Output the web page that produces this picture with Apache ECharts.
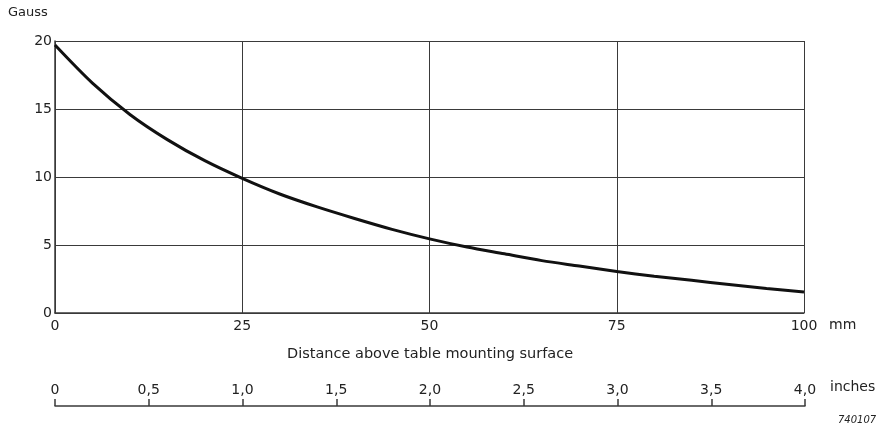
<!DOCTYPE html>
<html>
<head>
    <meta charset="UTF-8">
    <title>Gauss vs distance</title>
    <style>
        body { margin: 0; padding: 0; background: #fff; }
        #chart { width: 881px; height: 431px; }
    </style>
    <script src="https://cdn.jsdelivr.net/npm/echarts@6/dist/echarts.min.js"></script>
</head>
<body>
    <div id="chart"></div>
    <script>
        // distance above table (mm) and field strength (Gauss)
        var distanceMm = [0, 5, 10, 15, 20, 25, 30, 35, 40, 45, 50, 55, 60, 65, 70, 75, 80, 85, 90, 95, 100];
        var gauss = [19.7, 16.9, 14.6, 12.75, 11.2, 9.9, 8.75, 7.8, 6.95, 6.15, 5.45, 4.85, 4.35, 3.85, 3.45, 3.05, 2.7, 2.4, 2.1, 1.8, 1.55];
        // inch scale labels (comma decimals as in the original)
        var inchLabels = ['0', '0,5', '1,0', '1,5', '2,0', '2,5', '3,0', '3,5', '4,0'];

        var font = 'DejaVu Sans, Liberation Sans, sans-serif';
        var ink = '#222';
        var gridColor = '#3a3a3a';

        var points = distanceMm.map(function (d, i) { return [d, gauss[i]]; });

        var chart = echarts.init(document.getElementById('chart'));
        var option = {
            animation: false,
            grid: [
                { left: 55, right: 77, top: 41, bottom: 118 },
                { left: 55, width: 750, top: 406, height: 1 }
            ],
            xAxis: [
                {
                    type: 'value', gridIndex: 0, min: 0, max: 100, interval: 25,
                    axisLine: { show: true, lineStyle: { color: gridColor, width: 1.5 } },
                    axisTick: { show: false },
                    splitLine: { show: true, lineStyle: { color: gridColor, width: 1 } },
                    axisLabel: { color: ink, fontFamily: font, fontSize: 14, margin: 6 }
                },
                {
                    type: 'value', gridIndex: 1, position: 'top', min: 0, max: 4, interval: 0.5,
                    axisLine: { show: true, onZero: false, lineStyle: { color: gridColor, width: 1.5 } },
                    axisTick: { show: true, length: 7, lineStyle: { color: gridColor, width: 1.5 } },
                    splitLine: { show: false },
                    axisLabel: {
                        color: ink, fontFamily: font, fontSize: 14, margin: 9,
                        formatter: function (v) { return inchLabels[Math.round(v / 0.5)]; }
                    }
                }
            ],
            yAxis: [
                {
                    type: 'value', gridIndex: 0, min: 0, max: 20, interval: 5,
                    axisLine: { show: true, lineStyle: { color: gridColor, width: 1.5 } },
                    axisTick: { show: false },
                    splitLine: { show: true, lineStyle: { color: gridColor, width: 1 } },
                    axisLabel: { color: ink, fontFamily: font, fontSize: 14, margin: 3 }
                },
                {
                    type: 'value', gridIndex: 1, min: 0, max: 1, show: false
                }
            ],
            graphic: [
                { type: 'text', left: 8, top: 6, style: { text: 'Gauss', font: '13px ' + font, fill: ink } },
                { type: 'text', left: 829, top: 318, style: { text: 'mm', font: '14px ' + font, fill: ink } },
                { type: 'text', left: 287, top: 347, style: { text: 'Distance above table mounting surface', font: '14.5px ' + font, fill: ink } },
                { type: 'text', left: 830, top: 380, style: { text: 'inches', font: '14px ' + font, fill: ink } },
                { type: 'text', left: 838, top: 415, style: { text: '740107', font: 'italic 10px ' + font, fill: ink } }
            ],
            series: [
                {
                    type: 'line', xAxisIndex: 0, yAxisIndex: 0,
                    data: points, smooth: 0.3, showSymbol: false,
                    lineStyle: { color: '#111', width: 3 }
                },
                {
                    type: 'line', xAxisIndex: 1, yAxisIndex: 1, data: []
                }
            ]
        };
        chart.setOption(option);
    </script>
</body>
</html>
